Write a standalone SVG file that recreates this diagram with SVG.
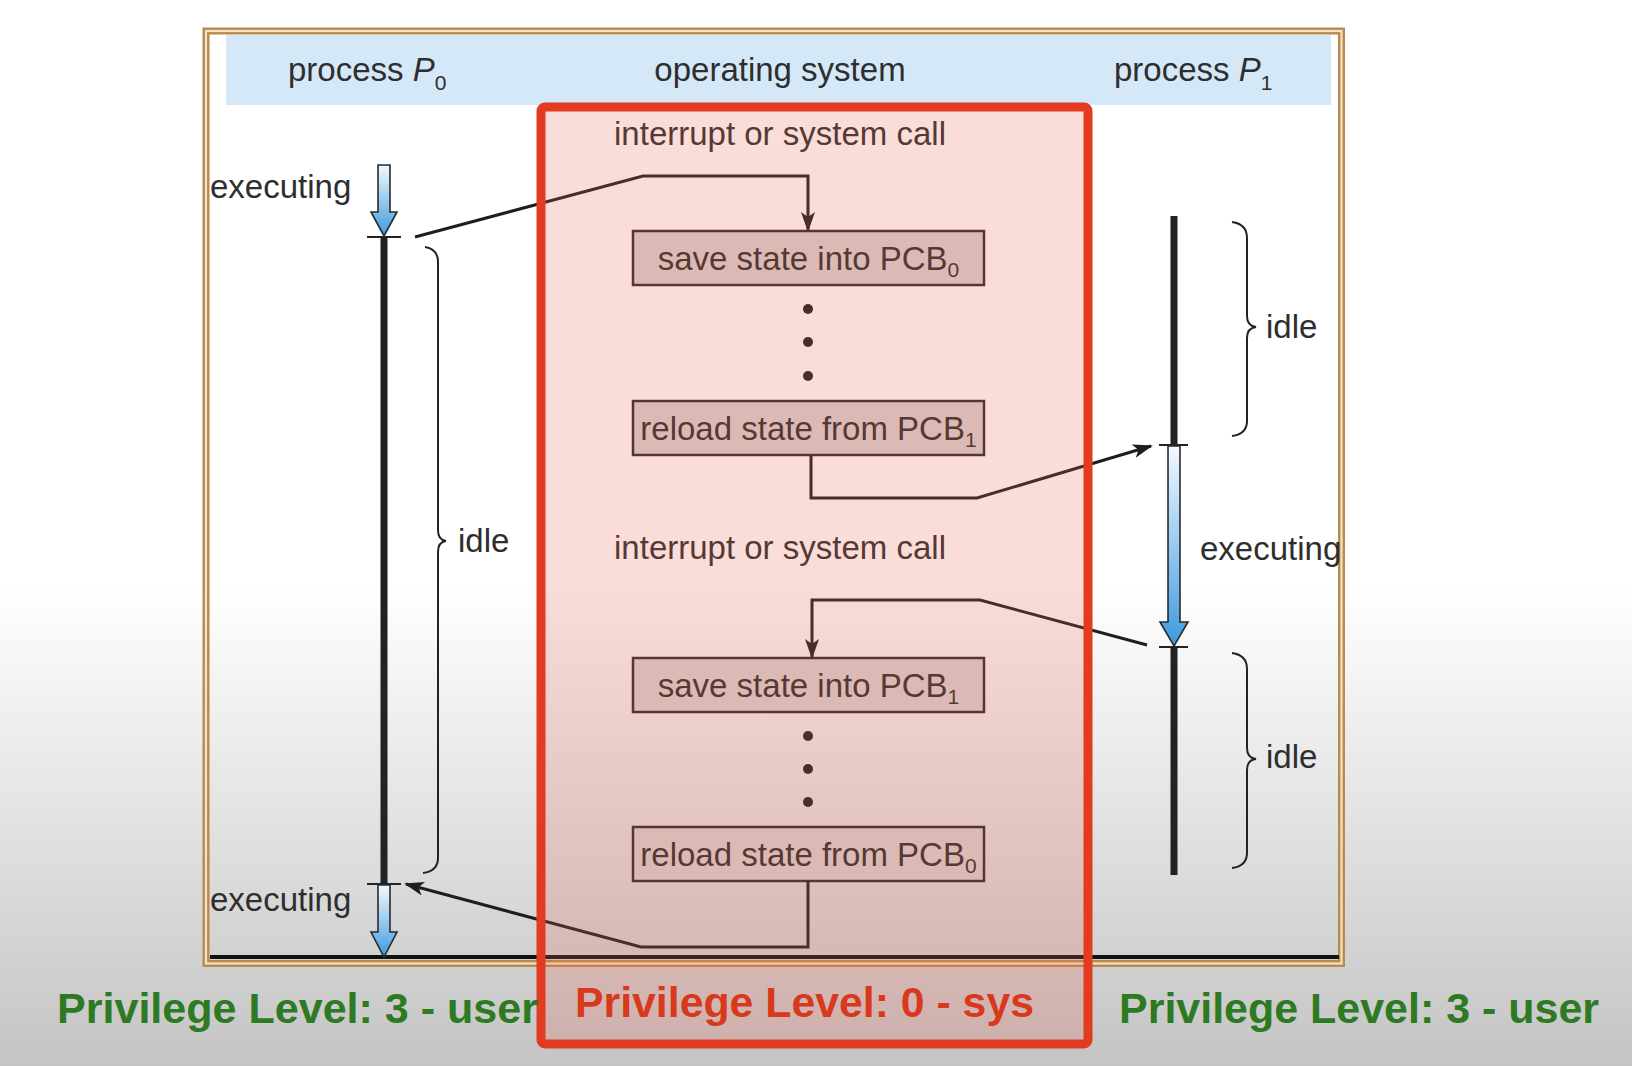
<svg xmlns="http://www.w3.org/2000/svg" width="1632" height="1066" viewBox="0 0 1632 1066">
<defs>
<linearGradient id="bg" x1="0" y1="0" x2="0" y2="1">
<stop offset="0" stop-color="#ffffff"/>
<stop offset="0.55" stop-color="#ffffff"/>
<stop offset="1" stop-color="#c4c4c4"/>
</linearGradient>
<linearGradient id="blue" x1="0" y1="0" x2="0" y2="1">
<stop offset="0" stop-color="#f4f9fe"/>
<stop offset="1" stop-color="#3b9be0"/>
</linearGradient>
<marker id="ah" viewBox="0 0 20 14" refX="18" refY="7" markerWidth="20" markerHeight="14" markerUnits="userSpaceOnUse" orient="auto">
<path d="M0,0 L20,7 L0,14 L5,7 Z" fill="#1e1e1e"/>
</marker>
<style>
.t{font-family:"Liberation Sans",Arial,sans-serif;font-size:33px;fill:#2e2e2e}
.box{fill:#d8d3d4;stroke:#2e2a2a;stroke-width:2.5}
.con{fill:none;stroke:#1e1e1e;stroke-width:3;stroke-linejoin:miter}
.bar{stroke:#222222;stroke-width:7}
.tick{stroke:#222222;stroke-width:2}
.brace{fill:none;stroke:#222222;stroke-width:2}
.barrow{fill:url(#blue);stroke:#2a2a2a;stroke-width:1.6}
.dot{fill:#1e1e1e}
.pl{font-family:"Liberation Sans",Arial,sans-serif;font-size:42px;font-weight:bold}
</style>
</defs>
<rect x="0" y="0" width="1632" height="1066" fill="url(#bg)"/>

<g id="frame">
<rect x="206" y="31" width="1135.5" height="932.5" fill="none" stroke="#b98a4c" stroke-width="7"/>
<rect x="206" y="31" width="1135.5" height="932.5" fill="none" stroke="#f2e4c8" stroke-width="2.2"/>
<rect x="226" y="35" width="1105" height="70" fill="#d4e8f7"/>
<line x1="210" y1="957" x2="1339" y2="957" stroke="#111111" stroke-width="4"/>
</g>

<g id="headers">
<text class="t" x="288" y="81">process <tspan font-style="italic">P</tspan><tspan font-size="21" dy="9">0</tspan></text>
<text class="t" x="780" y="81" text-anchor="middle">operating system</text>
<text class="t" x="1114" y="81">process <tspan font-style="italic">P</tspan><tspan font-size="21" dy="9">1</tspan></text>
</g>

<g id="process-p0">
<path class="barrow" d="M378,165 H390 V212 H397 L384,236 L371,212 H378 Z"/>
<line class="bar" x1="384" y1="237" x2="384" y2="884"/>
<line class="tick" x1="367" y1="237" x2="401" y2="237"/>
<line class="tick" x1="367" y1="884" x2="401" y2="884"/>
<path class="barrow" d="M378,885 H390 V932 H397 L384,957 L371,932 H378 Z"/>
<path class="brace" d="M425,247 Q438,249 438,262 V530 Q438,540 446,541 Q438,542 438,552 V858 Q438,871 423,873"/>
<text class="t" x="210" y="198">executing</text>
<text class="t" x="210" y="911">executing</text>
<text class="t" x="458" y="552">idle</text>
</g>

<g id="process-p1">
<line class="bar" x1="1174" y1="216" x2="1174" y2="444"/>
<line class="tick" x1="1159" y1="445" x2="1188" y2="445"/>
<path class="barrow" d="M1168,446 H1180 V622 H1188 L1174,646 L1160,622 H1168 Z"/>
<line class="tick" x1="1159" y1="647" x2="1188" y2="647"/>
<line class="bar" x1="1174" y1="648" x2="1174" y2="875"/>
<path class="brace" d="M1232,222 Q1247,224 1247,238 V316 Q1247,326 1256,327 Q1247,328 1247,338 V421 Q1247,434 1232,436"/>
<path class="brace" d="M1232,653 Q1247,655 1247,669 V748 Q1247,758 1256,759 Q1247,760 1247,770 V853 Q1247,866 1232,868"/>
<text class="t" x="1266" y="338">idle</text>
<text class="t" x="1266" y="768">idle</text>
<text class="t" x="1200" y="560">executing</text>
</g>

<g id="os">
<text class="t" x="780" y="145" text-anchor="middle">interrupt or system call</text>
<text class="t" x="780" y="559" text-anchor="middle">interrupt or system call</text>
<g id="save-pcb0">
<rect class="box" x="633" y="231" width="351" height="54"/>
<text class="t" x="808.5" y="270" text-anchor="middle">save state into PCB<tspan font-size="21" dy="7">0</tspan></text>
</g>
<g id="dots-1">
<circle class="dot" cx="808" cy="309" r="5"/>
<circle class="dot" cx="808" cy="342" r="5"/>
<circle class="dot" cx="808" cy="376" r="5"/>
</g>
<g id="reload-pcb1">
<rect class="box" x="633" y="401" width="351" height="54"/>
<text class="t" x="808.5" y="440" text-anchor="middle">reload state from PCB<tspan font-size="21" dy="7">1</tspan></text>
</g>
<g id="save-pcb1">
<rect class="box" x="633" y="658" width="351" height="54"/>
<text class="t" x="808.5" y="697" text-anchor="middle">save state into PCB<tspan font-size="21" dy="7">1</tspan></text>
</g>
<g id="dots-2">
<circle class="dot" cx="808" cy="736" r="5"/>
<circle class="dot" cx="808" cy="769" r="5"/>
<circle class="dot" cx="808" cy="802" r="5"/>
</g>
<g id="reload-pcb0">
<rect class="box" x="633" y="827" width="351" height="54"/>
<text class="t" x="808.5" y="866" text-anchor="middle">reload state from PCB<tspan font-size="21" dy="7">0</tspan></text>
</g>
</g>

<g id="connectors">
<path class="con" d="M415,237 L643,176 H808 V230" marker-end="url(#ah)"/>
<path class="con" d="M811,455 V498 H977 L1151,446" marker-end="url(#ah)"/>
<path class="con" d="M1147,645 L980,600 H812 V657" marker-end="url(#ah)"/>
<path class="con" d="M808,881 V947 H641 L406,884" marker-end="url(#ah)"/>
</g>

<g id="kernel-overlay">
<rect x="541" y="107" width="547" height="937" rx="4" fill="#e8644e" fill-opacity="0.22" stroke="#e23b1f" stroke-width="9"/>
</g>

<g id="privilege-labels">
<text class="pl" x="57" y="1023" fill="#2d7a23" textLength="481" lengthAdjust="spacingAndGlyphs">Privilege Level: 3 - user</text>
<text class="pl" x="575" y="1017" fill="#d8391d" textLength="459" lengthAdjust="spacingAndGlyphs">Privilege Level: 0 - sys</text>
<text class="pl" x="1119" y="1023" fill="#2d7a23" textLength="480" lengthAdjust="spacingAndGlyphs">Privilege Level: 3 - user</text>
</g>
</svg>
